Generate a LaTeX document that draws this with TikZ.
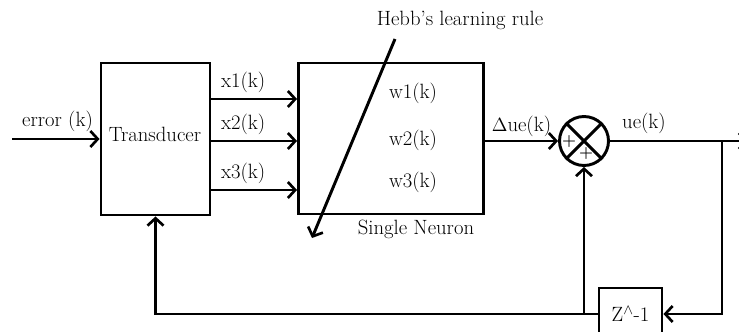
\documentclass[tikz,border=0pt]{standalone}
\usetikzlibrary{arrows.meta,shapes.geometric}

\tikzset{
    blk/.style={draw, line width=2.2pt, rectangle, inner sep=0pt},
    lbl/.style={font=\fontsize{15.5}{18}\selectfont},
    wire/.style={line width=2.2pt, ->},
    sgn/.style={font=\fontsize{12}{12}\selectfont\bfseries, inner sep=0pt},
}

\begin{document}
\begin{tikzpicture}[x=0.75pt, y=-0.75pt, >={Straight Barb[length=5.5pt,width=12pt,line width=2pt]}, every node/.style={lbl}]
    \useasboundingbox (0,0) rectangle (739,332);
    \clip (0,0) rectangle (739,332);

    % blocks
    \node[blk, minimum width=109*0.75pt, minimum height=152*0.75pt] (trans) at (155.5,139) {};
    \node at (155,134) {Transducer};
    \node[blk, minimum width=185*0.75pt, minimum height=151*0.75pt] (neuron) at (391,138.5) {};
    \node[blk, circle, minimum size=49*0.75pt] (sum) at (584,141) {};
    \node[blk, minimum width=63*0.75pt, minimum height=52*0.75pt] (zbox) at (630.5,314) {Z$^\wedge$-1};

    \draw[line width=2.2pt] (sum.north west) -- (sum.south east);
    \draw[line width=2.2pt] (sum.north east) -- (sum.south west);
    \node[sgn] at ([xshift=-15*0.75pt, yshift=-1*0.75pt]sum.center) {+};
    \node[sgn] at ([xshift=2*0.75pt, yshift=-13*0.75pt]sum.center) {+};

    % input
    \coordinate (in) at (12,139);
    \draw[wire] (in) -- (trans.west) node[pos=0.52, above=1pt] {error (k)};

    \foreach \i/\y/\w in {1/99/93,2/141/140,3/190/182} {
        \draw[wire] (trans.east |- 0,\y) -- (neuron.west |- 0,\y)
            node[pos=0.37, above=0pt] {x\i(k)};
        \node at (413,\w) {w\i(k)};
    }

    % learning rule
    \node (hebb) at (460,20) {Hebb's learning rule};
    \coordinate (hebbtop) at (395,39);
    \coordinate (hebbtip) at (312,238);
    \draw[wire] (hebbtop) -- (hebbtip);
    \node at (416,229) {Single Neuron};

    % output and feedback
    \draw[wire] (neuron.east |- sum) -- (sum.west) node[midway, above=-1pt] {$\Delta$ue(k)};
    \coordinate (out) at (748,141);
    \coordinate (jn) at (722,141);
    \draw[wire] (sum.east) -- (out);
    \node at (644,123) {ue(k)};
    \draw[wire] (jn) |- (zbox.east);
    \coordinate (fb) at (sum |- zbox.west);
    \draw[wire] (fb) -- (sum.south);
    \draw[wire] (zbox.west) -| (trans.south);
\end{tikzpicture}
\end{document}
